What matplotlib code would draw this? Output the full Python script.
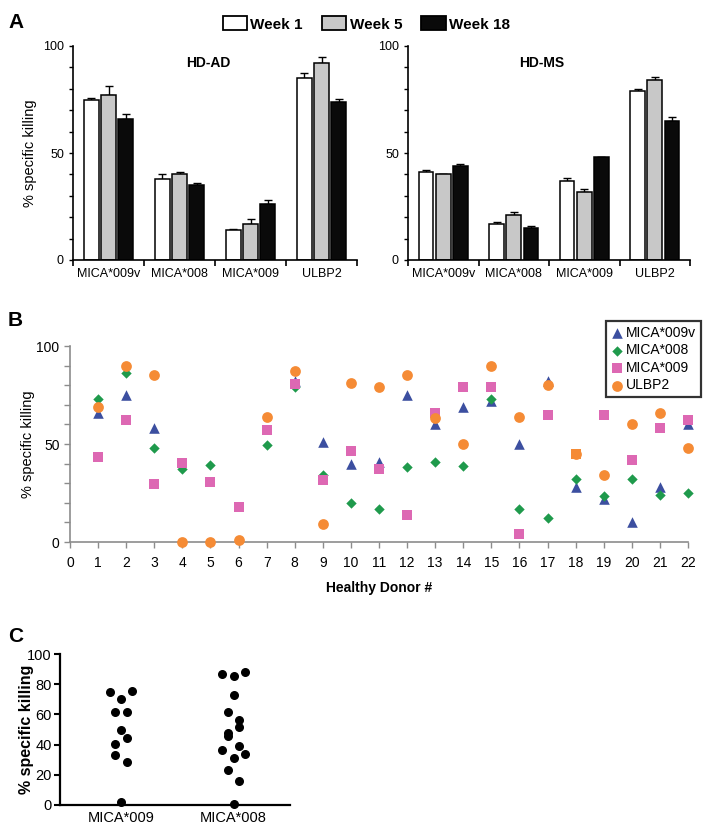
import matplotlib
matplotlib.use('Agg')
import matplotlib.pyplot as plt
import numpy as np
from matplotlib.patches import Patch

plt.rcParams['font.family'] = ['Liberation Sans', 'DejaVu Sans']

# ---- panel A data ----
targets = ['MICA*009v', 'MICA*008', 'MICA*009', 'ULBP2']
weeks = ['Week 1', 'Week 5', 'Week 18']
ad_w1 = [75, 38, 14, 85]
ad_w5 = [77, 40, 17, 92]
ad_w18 = [66, 35, 26, 74]
ad_w1_err = [0.8, 2.2, 0.5, 2.2]
ad_w5_err = [4.4, 1.2, 2.3, 2.8]
ad_w18_err = [2.0, 1.0, 1.9, 1.3]
ms_w1 = [41, 17, 37, 79]
ms_w5 = [40, 21, 32, 84]
ms_w18 = [44, 15, 48, 65]
ms_w1_err = [1.2, 0.9, 1.4, 1.1]
ms_w5_err = [0.3, 1.5, 1.1, 1.7]
ms_w18_err = [0.8, 0.8, 0.0, 2.0]

# ---- panel B data (donor 1..22), nan = not shown ----
donors = list(range(1, 23))
nan = np.nan
b_009v = [66, 75, 58, nan, nan, nan, nan, 82, 51, 40, 41, 75, 60, 69, 72, 50, 82, 28, 22, 10, 28, 60]
b_008 = [73, 86, 48, 37, 39.5, nan, 49.5, 79, 34, 20, 17, 38.4, 41, 39, 73, 17, 12, 32, 23.5, 32, 24, 25]
b_009 = [43.5, 62, 29.6, 40.5, 30.6, 17.7, 57, 80.6, 31.6, 46.4, 37, 14, 65.6, 79, 79, 4, 65, nan, 65, 42, 58, 62]
b_ulbp2 = [69, 90, 85, 0, 0, 1, 64, 87, 9.2, 81, 79, 85, 63.4, 50, 90, 64, 80, 45, 34, 60, 66, 48]
b_ulbp2_square = [18]   # donor drawn with a square marker in the original

# ---- panel C data ----
c_groups = ['MICA*009', 'MICA*008']
c_009 = [75, 75.7, 70.4, 61.3, 61.7, 50, 44.7, 40.3, 33.2, 28.8, 1.8]
c_008 = [86.7, 85.2, 88, 72.6, 61.9, 56.4, 51.5, 47.6, 45.8, 39.2, 36.5, 34.1, 30.8, 23, 16.2, 0.9]
# scatter slots (layout only)
c_009_slot = [-2, 2, 0, -1, 1, 0, 1, -1, -1, 1, 0]
c_008_slot = [-2, 0, 2, 0, -1, 1, 1, -1, -1, 1, -2, 2, 0, -1, 1, 0]

W, H = 703, 836
fig = plt.figure(figsize=(W / 100, H / 100), dpi=100)


def box(x0, y0, x1, y1):
    return [x0 / W, 1 - y1 / H, (x1 - x0) / W, (y1 - y0) / H]


bar_colors = ['white', '#c8c8c8', '#0a0a0a']


def bar_panel(ax, vals, errs, title):
    x = np.arange(len(targets))
    off = 0.244
    for i, (v, e) in enumerate(zip(vals, errs)):
        ax.bar(x + (i - 1) * off, v, width=0.21, color=bar_colors[i],
               edgecolor='black', linewidth=1.1, zorder=2)
        ax.errorbar(x + (i - 1) * off, v, yerr=[np.zeros(len(e)), e], fmt='none',
                    ecolor='black', elinewidth=1, capsize=3, capthick=1, zorder=1)
    ax.set_xlim(-0.5, 3.5)
    ax.set_ylim(0, 100)
    ax.spines['top'].set_visible(False)
    ax.spines['right'].set_visible(False)
    ax.spines['left'].set_linewidth(1.2)
    ax.spines['bottom'].set_linewidth(1.2)
    ax.set_xticks([-0.5, 0.5, 1.5, 2.5, 3.5])
    ax.set_xticklabels([])
    ax.set_xticks(x, minor=True)
    ax.set_xticklabels(targets, minor=True, fontsize=9)
    ax.tick_params(axis='x', which='major', length=4, width=1.2)
    ax.tick_params(axis='x', which='minor', length=0, pad=6)
    ax.set_yticks([0, 50, 100])
    ax.set_yticks(np.arange(0, 101, 10), minor=True)
    ax.tick_params(axis='y', which='both', length=3, width=1, labelsize=9)
    ax.text(0.475, 0.92, title, transform=ax.transAxes, ha='center', va='center',
            fontsize=10, fontweight='bold')


axA1 = fig.add_axes(box(73, 46, 357, 260))
bar_panel(axA1, [ad_w1, ad_w5, ad_w18], [ad_w1_err, ad_w5_err, ad_w18_err], 'HD-AD')
axA1.set_ylabel('% specific killing', fontsize=10.5)
axA1.yaxis.set_label_coords(-0.125, 0.5)

axA2 = fig.add_axes(box(408, 46, 690, 260))
bar_panel(axA2, [ms_w1, ms_w5, ms_w18], [ms_w1_err, ms_w5_err, ms_w18_err], 'HD-MS')

handles = [Patch(facecolor=c, edgecolor='black', linewidth=1.3) for c in bar_colors]
fig.legend(handles, weeks, loc='center', bbox_to_anchor=(0.521, 1 - 24 / H), ncol=3,
           frameon=False, handlelength=1.6, handleheight=1.0, handletextpad=0.2,
           columnspacing=1.25, prop={'weight': 'bold', 'size': 11})

# ---- panel B ----
axB = fig.add_axes(box(70, 346, 688, 542))
grey = '#8c8c8c'
axB.scatter(donors, b_009v, marker='^', s=58, color='#3c4fa0', zorder=3, label='MICA*009v',
            linewidths=0, clip_on=False)
axB.scatter(donors, b_008, marker='D', s=28, color='#1f9a4c', zorder=4, label='MICA*008',
            linewidths=0, clip_on=False)
axB.scatter(donors, b_009, marker='s', s=55, color='#dd68b3', zorder=5, label='MICA*009',
            linewidths=0, clip_on=False)
axB.scatter(donors, b_ulbp2, marker='o', s=60, color='#f58b35', zorder=6, label='ULBP2',
            linewidths=0, clip_on=False)
sq_x = [d for d in b_ulbp2_square]
sq_y = [b_ulbp2[d - 1] for d in b_ulbp2_square]
axB.scatter(sq_x, sq_y, marker='s', s=60, color='#f58b35', zorder=7, linewidths=0)
axB.set_xlim(0, 22)
axB.set_ylim(0, 100)
axB.set_xticks(range(0, 23))
axB.set_yticks([0, 50, 100])
axB.set_yticks(np.arange(0, 101, 10), minor=True)
for s in ['top', 'right']:
    axB.spines[s].set_visible(False)
for s in ['left', 'bottom']:
    axB.spines[s].set_color(grey)
    axB.spines[s].set_linewidth(1.2)
axB.tick_params(axis='both', which='both', colors=grey, labelcolor='black', labelsize=10,
                length=4, width=1)
axB.tick_params(axis='x', pad=6)
for lab in axB.get_xticklabels() + axB.get_yticklabels():
    lab.set_color('black')
axB.set_ylabel('% specific killing', fontsize=10.5)
axB.yaxis.set_label_coords(-0.057, 0.5)
axB.set_xlabel('Healthy Donor #', fontsize=10, fontweight='bold')
axB.xaxis.set_label_coords(0.5, -0.2)
legB = axB.legend(loc='upper right', bbox_to_anchor=(701 / W, 1 - 321 / H),
                  bbox_transform=fig.transFigure, fontsize=10, frameon=True, fancybox=False,
                  edgecolor='black', handlelength=0.9, handletextpad=0.2, labelspacing=0.25,
                  borderpad=0.35, borderaxespad=0)
legB.get_frame().set_linewidth(1.6)

# ---- panel C ----
axC = fig.add_axes(box(60, 654, 290, 805))
slot_w = 0.05
axC.scatter(1 + np.array(c_009_slot) * slot_w, c_009, s=30, color='black', zorder=3, clip_on=False)
axC.scatter(2 + np.array(c_008_slot) * slot_w, c_008, s=30, color='black', zorder=3, clip_on=False)
axC.set_xlim(0.46, 2.5)
axC.set_ylim(0, 100)
axC.set_xticks([1, 2])
axC.set_xticklabels(c_groups, fontsize=10.5)
axC.set_yticks(range(0, 101, 20))
axC.tick_params(axis='y', labelsize=10.5, length=4, width=1.5, pad=2)
axC.tick_params(axis='x', length=0, pad=4)
for s in ['top', 'right']:
    axC.spines[s].set_visible(False)
for s in ['left', 'bottom']:
    axC.spines[s].set_linewidth(1.6)
axC.set_ylabel('% specific killing', fontsize=11.5, fontweight='bold')
axC.yaxis.set_label_coords(-0.115, 0.5)

# panel letters
fig.text(8 / W, 1 - 13 / H, 'A', fontsize=15, fontweight='bold', va='top')
fig.text(8 / W, 1 - 311 / H, 'B', fontsize=15, fontweight='bold', va='top')
fig.text(8 / W, 1 - 627 / H, 'C', fontsize=15, fontweight='bold', va='top')

fig.savefig('out.png', dpi=100)
